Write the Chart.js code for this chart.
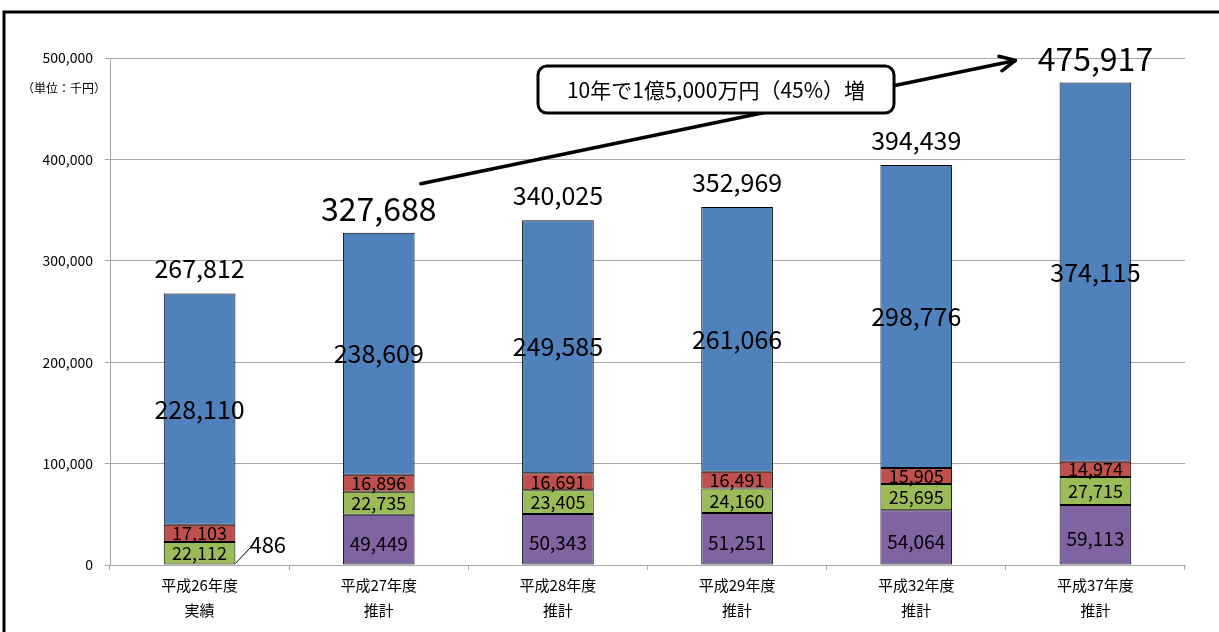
<!DOCTYPE html>
<html>
<head>
<meta charset="utf-8">
<script src="https://cdn.jsdelivr.net/npm/chart.js@4"></script>
<style>
  body { margin: 0; background: #fff; }
  canvas { display: block; }
</style>
</head>
<body>
<canvas id="myChart" width="1219" height="632"></canvas>
<script>
// data
const categories = [["平成26年度", "実績"], ["平成27年度", "推計"], ["平成28年度", "推計"], ["平成29年度", "推計"], ["平成32年度", "推計"], ["平成37年度", "推計"]];
const purpleValues = [486, 49449, 50343, 51251, 54064, 59113];
const greenValues = [22112, 22735, 23405, 24160, 25695, 27715];
const redValues = [17103, 16896, 16691, 16491, 15905, 14974];
const blueValues = [228110, 238609, 249585, 261066, 298776, 374115];
const totals = [267812, 327688, 340025, 352969, 394439, 475917];
const bigTotals = [1, 5]; // shown larger in the picture
const yTicks = [0, 100000, 200000, 300000, 400000, 500000];
const unitLabel = "（単位：千円）";
const noteText = "10年で1億5,000万円（45%）増";

const FONT = "'Noto Sans CJK JP', 'Noto Sans', sans-serif";

function fmt(v) {
    return v.toLocaleString("en-US");
}

// labels, frame, arrow and note box
const drawExtras = {
    id: "drawExtras",
    afterDatasetsDraw(chart) {
        const ctx = chart.ctx;
        const x = chart.scales.x;
        const y = chart.scales.y;
        ctx.save();

        // outer frame
        ctx.strokeStyle = "#000";
        ctx.lineWidth = 3;
        ctx.strokeRect(4, 12, chart.width + 10, chart.height + 10);

        // unit label
        ctx.fillStyle = "#000";
        ctx.font = "12px " + FONT;
        ctx.textAlign = "left";
        ctx.textBaseline = "middle";
        ctx.fillText(unitLabel, 22, y.getPixelForValue(470000));

        // segment labels
        ctx.textAlign = "center";
        const segFonts = ["19px", "18px", "18px", "25px"];
        chart.data.datasets.forEach((ds, di) => {
            const meta = chart.getDatasetMeta(di);
            meta.data.forEach((bar, i) => {
                if (di === 0 && i === 0) return;
                ctx.font = segFonts[di] + " " + FONT;
                const mid = (bar.y + bar.base) / 2 + (di === 0 ? 4 : 0);
                ctx.fillText(fmt(ds.data[i]), bar.x, mid);
            });
        });

        // the small purple value of the first bar with its leader line
        const b0 = chart.getDatasetMeta(0).data[0];
        const bw = b0.width / 2;
        ctx.strokeStyle = "#000";
        ctx.lineWidth = 1;
        ctx.beginPath();
        ctx.moveTo(b0.x + bw, b0.base - 1);
        ctx.lineTo(b0.x + bw + 15, b0.base - 17);
        ctx.stroke();
        ctx.font = "22px " + FONT;
        ctx.textAlign = "left";
        ctx.fillText(fmt(purpleValues[0]), b0.x + bw + 14, b0.base - 20);

        // totals above the bars
        ctx.textAlign = "center";
        totals.forEach((t, i) => {
            const big = bigTotals.includes(i);
            ctx.font = (big ? "32px " : "25px ") + FONT;
            ctx.fillText(fmt(t), x.getPixelForValue(i), y.getPixelForValue(t) - (big ? 24 : 25));
        });

        // arrow from the 27 total to the 37 total
        const x1 = x.getPixelForValue(1) + 42, y1 = y.getPixelForValue(totals[1]) - 49;
        const x2 = x.getPixelForValue(5) - 80, y2 = y.getPixelForValue(totals[5]) - 22;
        ctx.lineWidth = 3.5;
        ctx.lineCap = "round";
        ctx.lineJoin = "round";
        ctx.beginPath();
        ctx.moveTo(x1, y1);
        ctx.lineTo(x2, y2);
        ctx.stroke();
        const ang = Math.atan2(y2 - y1, x2 - x1);
        ctx.beginPath();
        ctx.moveTo(x2 - 17 * Math.cos(ang - 0.45), y2 - 17 * Math.sin(ang - 0.45));
        ctx.lineTo(x2, y2);
        ctx.lineTo(x2 - 17 * Math.cos(ang + 0.45), y2 - 17 * Math.sin(ang + 0.45));
        ctx.stroke();

        // note box over the arrow
        const bx = 538, by = 66, bwid = 356, bh = 47;
        ctx.beginPath();
        ctx.roundRect(bx, by, bwid, bh, 9);
        ctx.fillStyle = "#fff";
        ctx.fill();
        ctx.lineWidth = 3;
        ctx.stroke();
        ctx.fillStyle = "#000";
        ctx.font = "21px " + FONT;
        ctx.textAlign = "center";
        ctx.fillText(noteText, bx + bwid / 2, by + bh / 2 + 1);

        ctx.restore();
    }
};

const ctx = document.getElementById("myChart").getContext("2d");
const myChart = new Chart(ctx, {
    type: "bar",
    data: {
        labels: categories,
        datasets: [
            { data: purpleValues, backgroundColor: "#8064A2" },
            { data: greenValues, backgroundColor: "#9BBB59" },
            { data: redValues, backgroundColor: "#C0504D" },
            { data: blueValues, backgroundColor: "#4F81BD" }
        ].map(d => Object.assign(d, {
            borderColor: "#000",
            borderWidth: 1,
            borderSkipped: false,
            barPercentage: 0.4,
            categoryPercentage: 1
        }))
    },
    options: {
        responsive: false,
        animation: false,
        layout: { padding: { top: 58, right: 34, left: 0, bottom: 0 } },
        plugins: {
            legend: { display: false },
            tooltip: { enabled: false }
        },
        scales: {
            x: {
                stacked: true,
                afterFit: s => { s.height = 67; },
                border: { color: "#a6a6a6", width: 1 },
                grid: { offset: true, drawOnChartArea: false, tickLength: 5, color: "#a6a6a6" },
                ticks: {
                    color: "#000",
                    font: { family: FONT, size: 15, lineHeight: 1.67 },
                    padding: 3,
                    maxRotation: 0
                }
            },
            y: {
                stacked: true,
                min: 0,
                max: 500000,
                afterFit: s => { s.width = 110; },
                afterBuildTicks: s => { s.ticks = yTicks.map(v => ({ value: v })); },
                border: { color: "#a6a6a6", width: 1 },
                grid: { color: "#a6a6a6", tickLength: 5 },
                ticks: {
                    color: "#000",
                    font: { family: FONT, size: 14 },
                    padding: 12,
                    callback: v => fmt(v)
                }
            }
        }
    },
    plugins: [drawExtras]
});
</script>
</body>
</html>
